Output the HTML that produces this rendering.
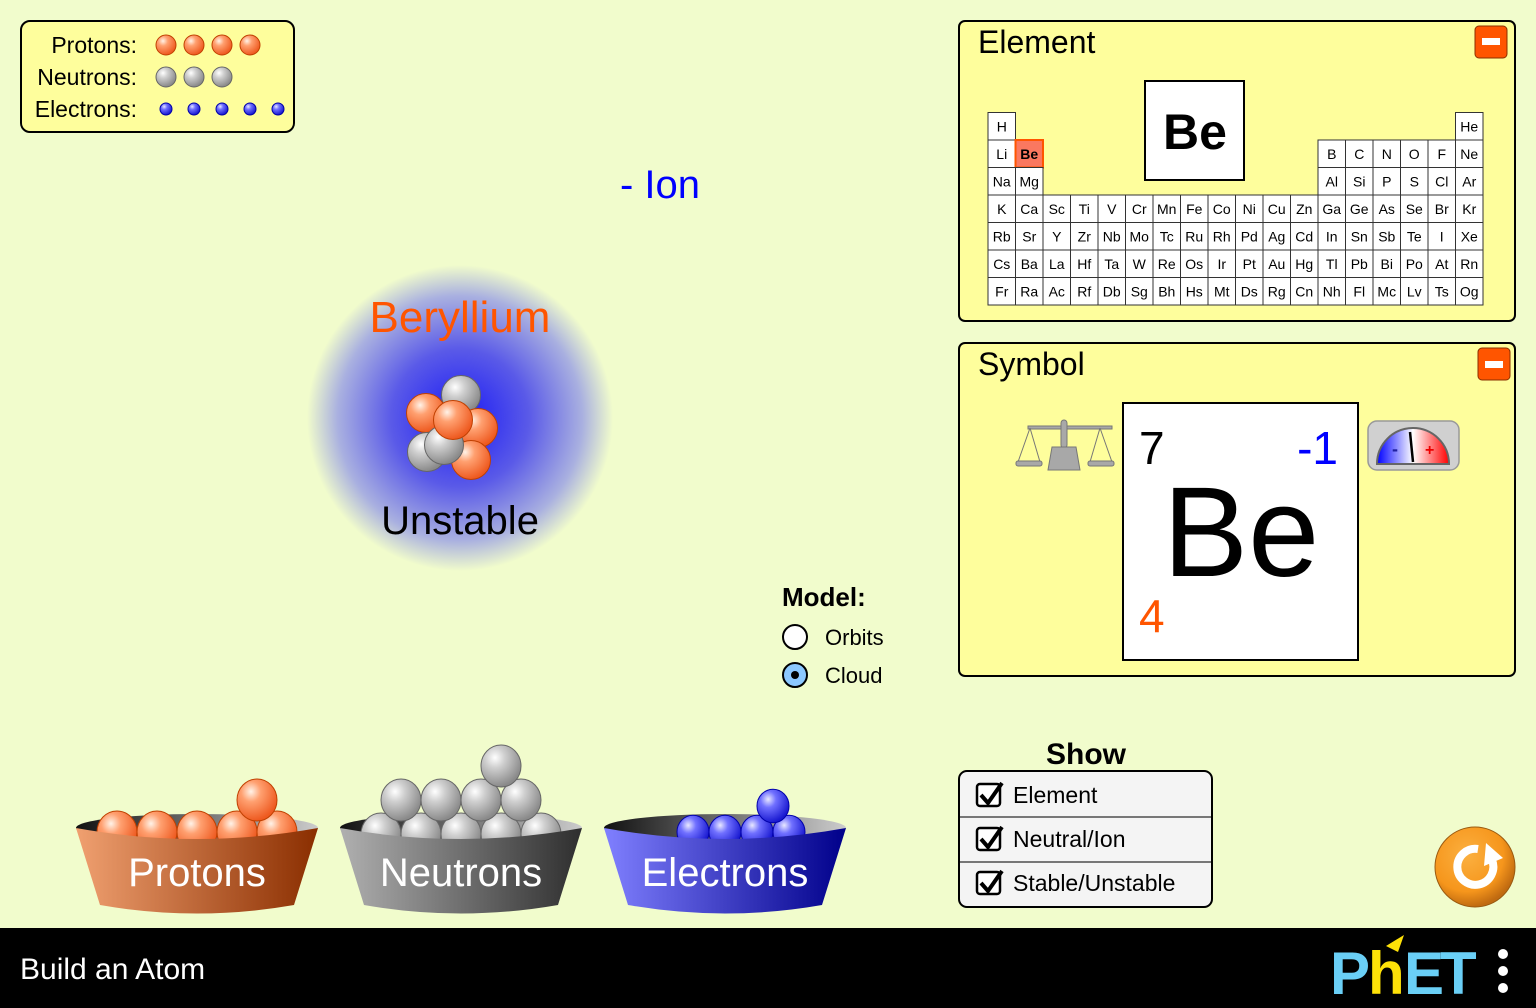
<!DOCTYPE html>
<html><head><meta charset="utf-8"><style>
html,body{margin:0;padding:0;width:1536px;height:1008px;overflow:hidden;background:#f1fccc;font-family:"Liberation Sans",sans-serif}
svg{display:block}
</style></head><body>
<svg id="s" width="1536" height="1008" viewBox="0 0 1536 1008" xmlns="http://www.w3.org/2000/svg" font-family="Liberation Sans, sans-serif">
<defs>
<radialGradient id="gp" cx="35%" cy="30%" r="70%"><stop offset="0" stop-color="#fff3e8"/><stop offset="0.35" stop-color="#ffa070"/><stop offset="1" stop-color="#ee5a20"/></radialGradient>
<radialGradient id="gn" cx="35%" cy="30%" r="70%"><stop offset="0" stop-color="#ffffff"/><stop offset="0.35" stop-color="#cfcfcf"/><stop offset="1" stop-color="#8a8a8a"/></radialGradient>
<radialGradient id="ge" cx="35%" cy="30%" r="70%"><stop offset="0" stop-color="#e8e8ff"/><stop offset="0.35" stop-color="#7070ff"/><stop offset="1" stop-color="#1818d0"/></radialGradient>
<radialGradient id="cloud" cx="50%" cy="50%" r="50%"><stop offset="0" stop-color="#1a1af5"/><stop offset="0.45" stop-color="#5a5ae8"/><stop offset="0.8" stop-color="#a9b0e0"/><stop offset="1" stop-color="#f1fccc"/></radialGradient>
<linearGradient id="bp" x1="0" x2="1"><stop offset="0" stop-color="#f0a070"/><stop offset="1" stop-color="#8a2e00"/></linearGradient>
<linearGradient id="bn" x1="0" x2="1"><stop offset="0" stop-color="#b0b0b0"/><stop offset="1" stop-color="#2e2e2e"/></linearGradient>
<linearGradient id="be" x1="0" x2="1"><stop offset="0" stop-color="#8080ff"/><stop offset="1" stop-color="#00008a"/></linearGradient>
<linearGradient id="rim" x1="0" x2="1"><stop offset="0" stop-color="#111"/><stop offset="1" stop-color="#ccc"/></linearGradient>
<linearGradient id="meter" x1="0" x2="1"><stop offset="0" stop-color="#0000ff"/><stop offset="0.5" stop-color="#ffffff"/><stop offset="1" stop-color="#ff0000"/></linearGradient>
<radialGradient id="reset" cx="40%" cy="35%" r="65%"><stop offset="0" stop-color="#fbb040"/><stop offset="0.7" stop-color="#f6961c"/><stop offset="1" stop-color="#c06a10"/></radialGradient>
</defs>

<g>
<rect x="21" y="21" width="273" height="111" rx="9" fill="#fefe9c" stroke="#000" stroke-width="2"/>
<g font-size="23" fill="#000" text-anchor="end">
<text x="137" y="53">Protons:</text>
<text x="137" y="85">Neutrons:</text>
<text x="137" y="117">Electrons:</text>
</g>
<g id="legendDots"></g>
</g>

<text x="620" y="198" font-size="40" fill="#0000ff">- Ion</text>

<g>
<circle cx="460" cy="418" r="153" fill="url(#cloud)"/>
<text x="460" y="332" font-size="44" fill="#ff5500" text-anchor="middle">Beryllium</text>
<g id="nucleus"></g>
<text x="460" y="534" font-size="40" fill="#000" text-anchor="middle">Unstable</text>
</g>

<g>
<text x="782" y="606" font-size="26" font-weight="bold">Model:</text>
<g><circle cx="795" cy="637" r="12" fill="#fff" stroke="#000" stroke-width="2"/><text x="825" y="645" font-size="22">Orbits</text></g>
<g><circle cx="795" cy="675" r="12" fill="#8cc8ff" stroke="#000" stroke-width="2"/><circle cx="795" cy="675" r="4" fill="#000"/><text x="825" y="683" font-size="22">Cloud</text></g>
</g>

<g>
<rect x="959" y="21" width="556" height="300" rx="6" fill="#fefe9c" stroke="#000" stroke-width="2"/>
<text x="978" y="53" font-size="32">Element</text>
<g><rect x="1475" y="26" width="32" height="32" rx="4" fill="#ff5500" stroke="#8a3000"/><rect x="1482" y="38" width="18" height="7" fill="#fff"/></g>
<rect x="1145" y="81" width="99" height="99" fill="#fff" stroke="#000" stroke-width="2"/>
<text x="1195" y="149" font-size="50" font-weight="bold" text-anchor="middle">Be</text>
<g id="ptable"></g>
</g>

<g>
<rect x="959" y="343" width="556" height="333" rx="6" fill="#fefe9c" stroke="#000" stroke-width="2"/>
<text x="978" y="375" font-size="32">Symbol</text>
<g><rect x="1478" y="348" width="32" height="32" rx="4" fill="#ff5500" stroke="#8a3000"/><rect x="1485" y="361" width="18" height="7" fill="#fff"/></g>
<g fill="#a8a8a8" stroke="#777">
<rect x="1028" y="426" width="84" height="3"/><rect x="1061" y="420" width="6" height="28" rx="3"/>
<path d="M1048 470 L1052 447 L1076 447 L1080 470 Z"/>
<line x1="1030" y1="428" x2="1018" y2="462"/><line x1="1030" y1="428" x2="1040" y2="462"/>
<line x1="1100" y1="428" x2="1090" y2="462"/><line x1="1100" y1="428" x2="1112" y2="462"/>
<rect x="1016" y="461" width="26" height="5" rx="2"/><rect x="1088" y="461" width="26" height="5" rx="2"/>
</g>
<rect x="1123" y="403" width="235" height="257" fill="#fff" stroke="#000" stroke-width="2"/>
<text x="1139" y="464" font-size="46">7</text>
<text x="1338" y="464" font-size="46" fill="#0000ff" text-anchor="end">-1</text>
<text x="1241" y="576" font-size="128" text-anchor="middle">Be</text>
<text x="1139" y="632" font-size="46" fill="#ff5500">4</text>
<g>
<rect x="1368" y="421" width="91" height="49" rx="9" fill="#d0d0d0" stroke="#999" stroke-width="1.5"/>
<path d="M1377 464 A 36 36 0 0 1 1449 464 Z" fill="url(#meter)" stroke="#666" stroke-width="2"/>
<text x="1392" y="455" font-size="18" font-weight="bold" fill="#2020a0">-</text>
<text x="1425" y="455" font-size="16" font-weight="bold" fill="#e00">+</text>
<line x1="1413" y1="462" x2="1410" y2="432" stroke="#000" stroke-width="2.5"/>
</g>
</g>

<g>
<text x="1086" y="764" font-size="30" font-weight="bold" text-anchor="middle">Show</text>
<rect x="959" y="771" width="253" height="136" rx="8" fill="#f4f4f4" stroke="#000" stroke-width="2"/>
<line x1="960" y1="817" x2="1211" y2="817" stroke="#777" stroke-width="2"/>
<line x1="960" y1="862" x2="1211" y2="862" stroke="#777" stroke-width="2"/>
<g id="checks"></g>
</g>

<g id="buckets"></g>

<g>
<circle cx="1475" cy="867" r="40" fill="url(#reset)" stroke="#9a5a10"/>
<path d="M1492 860 A 18 18 0 1 1 1478 849" fill="none" stroke="#fff" stroke-width="8"/>
<path d="M1486 843 L1503 858 L1484 866 Z" fill="#fff"/>
</g>

<g>
<rect x="0" y="928" width="1536" height="80" fill="#000"/>
<text x="20" y="979" font-size="30" fill="#fff">Build an Atom</text>
<g>
<text x="1330" y="994" font-size="60" font-weight="bold" fill="#6acff6">P</text>
<text x="1368" y="994" font-size="60" font-weight="bold" fill="#fee108">h</text>
<text x="1404" y="994" font-size="60" font-weight="bold" fill="#6acff6" letter-spacing="-4">ET</text>
<path d="M1386 946 L1404 935 L1398 952 Z" fill="#fee108"/>
</g>
<g fill="#fff"><circle cx="1503" cy="954" r="5"/><circle cx="1503" cy="971" r="5"/><circle cx="1503" cy="988" r="5"/></g>
</g>
</svg>
<script>
const NS="http://www.w3.org/2000/svg";
const protonCount=4, neutronCount=3, electronCount=5;
const ptRows=[
["H","","","","","","","","","","","","","","","","","He"],
["Li","Be","","","","","","","","","","","B","C","N","O","F","Ne"],
["Na","Mg","","","","","","","","","","","Al","Si","P","S","Cl","Ar"],
["K","Ca","Sc","Ti","V","Cr","Mn","Fe","Co","Ni","Cu","Zn","Ga","Ge","As","Se","Br","Kr"],
["Rb","Sr","Y","Zr","Nb","Mo","Tc","Ru","Rh","Pd","Ag","Cd","In","Sn","Sb","Te","I","Xe"],
["Cs","Ba","La","Hf","Ta","W","Re","Os","Ir","Pt","Au","Hg","Tl","Pb","Bi","Po","At","Rn"],
["Fr","Ra","Ac","Rf","Db","Sg","Bh","Hs","Mt","Ds","Rg","Cn","Nh","Fl","Mc","Lv","Ts","Og"]];
const selectedElement="Be";
const checkLabels=["Element","Neutral/Ion","Stable/Unstable"];
function mk(tag,attrs,parent){const e=document.createElementNS(NS,tag);for(const k in attrs)e.setAttribute(k,attrs[k]);parent.appendChild(e);return e;}
const ld=document.getElementById("legendDots");
for(let i=0;i<protonCount;i++){const c=mk("circle",{cx:166+i*28,cy:45,r:10,fill:"url(#gp)",stroke:"#c04000"},ld);}
for(let i=0;i<neutronCount;i++){const c=mk("circle",{cx:166+i*28,cy:77,r:10,fill:"url(#gn)",stroke:"#666"},ld);}
for(let i=0;i<electronCount;i++){const c=mk("circle",{cx:166+i*28,cy:109,r:6,fill:"url(#ge)",stroke:"#00a"},ld);}
const nuc=document.getElementById("nucleus");
const parts=[["n",461,395],["p",426,413],["p",478,428],["n",427,452],["p",471,460],["n",444,445],["p",453,420]];
parts.forEach(p=>{const c=mk("circle",{cx:p[1],cy:p[2],r:19.5,fill:p[0]=="p"?"url(#gp)":"url(#gn)",stroke:p[0]=="p"?"#c04000":"#666","stroke-width":1},nuc);});
const pt=document.getElementById("ptable");
const cw=27.5, ch=27.5, x0=988, y0=112.5;
ptRows.forEach((row,r)=>row.forEach((s,c)=>{if(!s)return;const sel=s===selectedElement;
const g=mk("g",{},pt);
mk("rect",{x:x0+c*cw,y:y0+r*ch,width:cw,height:ch,fill:sel?"#fa7860":"#fff",stroke:sel?"#ff5500":"#333","stroke-width":sel?2:1},g);
const t=mk("text",{x:x0+c*cw+cw/2,y:y0+r*ch+19,"font-size":14,"text-anchor":"middle","font-weight":sel?"bold":"normal"},g);t.textContent=s;}));
const ck=document.getElementById("checks");
checkLabels.forEach((l,i)=>{const y=795+i*44;const g=mk("g",{},ck);
mk("rect",{x:977,y:y-11,width:23,height:22,rx:3,fill:"#fff",stroke:"#000","stroke-width":2.5},g);
mk("path",{d:`M981 ${y} L988 ${y+8} L1002 ${y-12}`,fill:"none",stroke:"#000","stroke-width":4},g);
const t=mk("text",{x:1013,y:y+8,"font-size":23},g);t.textContent=l;});
const bk=document.getElementById("buckets");
const buckets=[{n:"Protons",cx:197,g:"url(#bp)",b:"url(#gp)",s:"#c04000",balls:[[-80,832],[-40,832],[0,832],[40,832],[80,832],[60,800]],r:20},
{n:"Neutrons",cx:461,g:"url(#bn)",b:"url(#gn)",s:"#666",balls:[[-80,834],[-40,834],[0,834],[40,834],[80,834],[-60,800],[-20,800],[20,800],[60,800],[40,766]],r:20},
{n:"Electrons",cx:725,g:"url(#be)",b:"url(#ge)",s:"#00a",balls:[[-32,832],[0,832],[32,832],[64,832],[48,806]],r:16}];
buckets.forEach(B=>{const g=mk("g",{},bk);
const c=B.cx;
mk("ellipse",{cx:c,cy:828,rx:121,ry:14,fill:"url(#rim)"},g);
B.balls.forEach(p=>{const b=mk("ellipse",{cx:c+p[0],cy:p[1],rx:B.r,ry:B.r*1.05,fill:B.b,stroke:B.s},g);});
mk("path",{d:`M${c-121} 828 Q${c} 850 ${c+121} 828 L${c+97} 905 Q${c} 922 ${c-97} 905 Z`,fill:B.g},g);
const t=mk("text",{x:c,y:886,"font-size":40,fill:"#fff","text-anchor":"middle"},g);t.textContent=B.n;});
</script>
</body></html>
